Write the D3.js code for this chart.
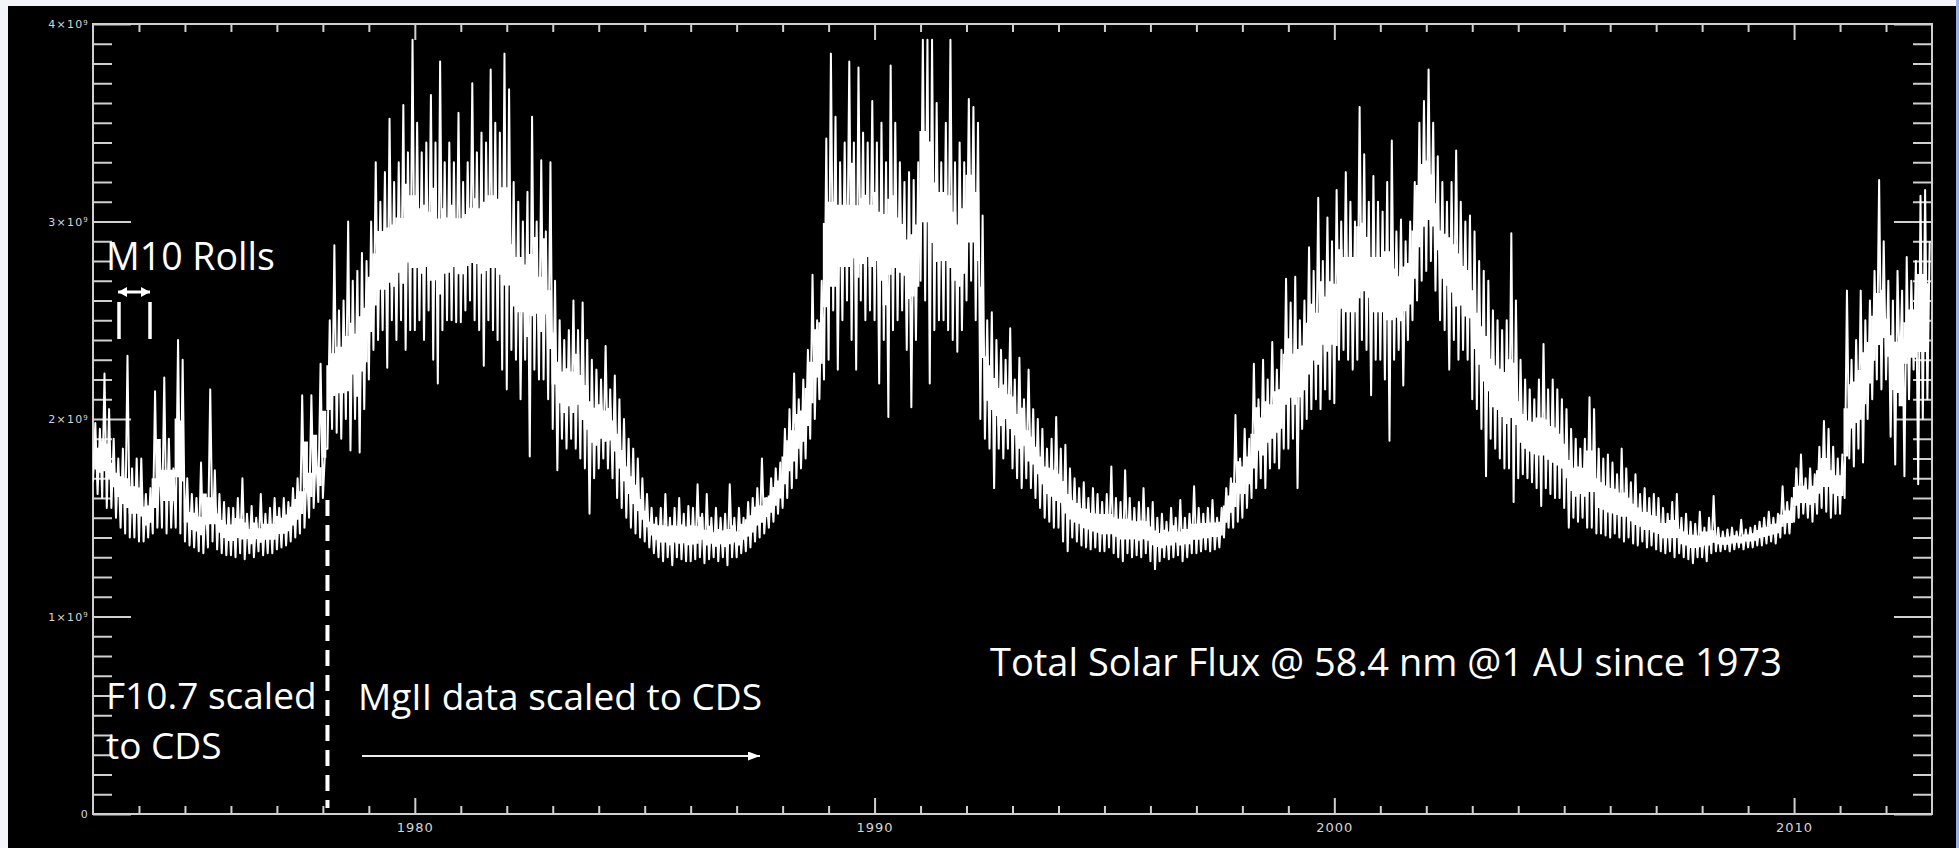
<!DOCTYPE html>
<html lang="en">
<head>
<meta charset="utf-8">
<title>Total Solar Flux @ 58.4 nm</title>
<script src="https://cdn.jsdelivr.net/npm/d3@7"></script>
<style>
  html, body { margin: 0; padding: 0; background: #eef2fa; overflow: hidden; }
  svg { display: block; }
  .tick text { font-family: "DejaVu Sans", sans-serif; fill: #d6d6d6; }
  .tick line { stroke: #cfcfcf; stroke-width: 2; }
  .note { font-family: "Open Sans", sans-serif; fill: #fff; }
</style>
</head>
<body>
<svg id="chart" width="1959" height="848"></svg>
<script>
// samples every 0.1 yr from 1973, values in units of 1e9
var startYear = 1973;
var sampleStep = 0.1;

var fluxHigh = [
  1.98, 1.95, 2.23, 2.05, 1.90, 1.80, 1.85, 2.32, 1.75, 1.80, // 1973
  1.80, 1.62, 1.65, 2.14, 1.85, 2.21, 1.90, 1.75, 2.40, 2.30, // 1974
  1.70, 1.62, 1.60, 1.78, 1.60, 2.15, 1.74, 1.62, 1.58, 1.55, // 1975
  1.55, 1.60, 1.70, 1.52, 1.56, 1.50, 1.62, 1.52, 1.55, 1.60, // 1976
  1.55, 1.60, 1.58, 1.65, 1.70, 2.12, 1.75, 2.12, 1.85, 2.28, // 1977
  1.85, 2.50, 2.88, 2.55, 2.60, 3.00, 2.70, 2.75, 2.84, 2.80, // 1978
  3.00, 3.30, 3.10, 3.25, 3.52, 3.20, 3.30, 3.59, 3.35, 3.92, // 1979
  3.50, 3.35, 3.40, 3.64, 3.40, 3.81, 3.30, 3.40, 3.30, 3.55, // 1980
  3.20, 3.30, 3.70, 3.35, 3.45, 3.40, 3.77, 3.50, 3.45, 3.85, // 1981
  3.67, 3.20, 3.10, 3.00, 3.15, 3.53, 3.00, 3.31, 2.95, 3.30, // 1982
  2.70, 2.50, 2.40, 2.45, 2.60, 2.45, 2.59, 2.40, 2.30, 2.25, // 1983
  2.20, 2.37, 2.15, 2.22, 2.10, 2.00, 1.90, 1.85, 1.80, 1.70, // 1984
  1.62, 1.55, 1.50, 1.55, 1.62, 1.50, 1.55, 1.60, 1.52, 1.56, // 1985
  1.55, 1.67, 1.52, 1.62, 1.50, 1.55, 1.50, 1.52, 1.67, 1.50, // 1986
  1.55, 1.50, 1.58, 1.60, 1.65, 1.80, 1.60, 1.70, 1.75, 1.78, // 1987
  1.95, 2.05, 2.23, 2.10, 2.20, 2.35, 2.73, 2.50, 2.70, 3.42, // 1988
  3.85, 3.53, 3.30, 3.40, 3.81, 3.40, 3.78, 3.45, 3.40, 3.61, // 1989
  3.40, 3.50, 3.30, 3.79, 3.50, 3.30, 3.20, 3.25, 3.21, 3.30, // 1990
  3.92, 3.92, 3.92, 3.60, 3.30, 3.50, 3.92, 3.30, 3.40, 3.30, // 1991
  3.62, 3.58, 3.50, 3.03, 2.50, 2.54, 2.40, 2.35, 2.30, 2.46, // 1992
  2.20, 2.31, 2.10, 2.25, 2.05, 2.00, 1.95, 1.85, 1.90, 2.01, // 1993
  1.85, 1.87, 1.75, 1.70, 1.65, 1.68, 1.60, 1.65, 1.62, 1.58, // 1994
  1.62, 1.76, 1.60, 1.58, 1.74, 1.60, 1.55, 1.58, 1.65, 1.55, // 1995
  1.58, 1.50, 1.52, 1.48, 1.55, 1.50, 1.59, 1.50, 1.52, 1.66, // 1996
  1.55, 1.52, 1.55, 1.59, 1.50, 1.55, 1.65, 1.70, 2.02, 1.80, // 1997
  1.95, 1.90, 2.28, 2.10, 2.30, 2.20, 2.39, 2.25, 2.35, 2.71, // 1998
  2.59, 2.72, 2.50, 2.60, 2.87, 2.75, 3.12, 2.80, 3.02, 2.90, // 1999
  3.16, 3.00, 3.25, 3.10, 3.00, 3.58, 3.34, 3.10, 3.23, 3.10, // 2000
  3.05, 3.20, 3.41, 2.95, 3.01, 2.90, 3.00, 3.20, 3.50, 3.61, // 2001
  3.77, 3.50, 3.33, 3.20, 3.10, 3.20, 3.36, 3.10, 3.00, 3.03, // 2002
  2.95, 2.80, 2.75, 2.70, 2.55, 2.50, 2.45, 2.50, 2.94, 2.60, // 2003
  2.30, 2.20, 2.15, 2.10, 2.20, 2.38, 2.15, 2.20, 2.15, 2.10, // 2004
  2.05, 1.95, 1.90, 1.85, 1.90, 2.11, 2.05, 1.85, 1.80, 1.82, // 2005
  1.78, 1.72, 1.85, 1.75, 1.68, 1.72, 1.62, 1.65, 1.60, 1.62, // 2006
  1.60, 1.55, 1.52, 1.58, 1.62, 1.50, 1.52, 1.48, 1.47, 1.53, // 2007
  1.45, 1.50, 1.61, 1.45, 1.43, 1.44, 1.45, 1.43, 1.49, 1.44, // 2008
  1.45, 1.46, 1.48, 1.50, 1.53, 1.50, 1.52, 1.66, 1.58, 1.60, // 2009
  1.75, 1.82, 1.70, 1.75, 1.72, 1.86, 1.99, 1.95, 1.86, 1.80, // 2010
  1.82, 2.65, 2.30, 2.40, 2.65, 2.50, 2.60, 2.75, 3.21, 2.90, // 2011
  2.70, 2.60, 2.75, 2.65, 2.82, 2.70, 2.80, 3.13, 3.16, 2.90  // 2012
];

var fluxLow = [
  1.68, 1.62, 1.60, 1.55, 1.55, 1.50, 1.45, 1.42, 1.40, 1.40, // 1973
  1.38, 1.38, 1.40, 1.42, 1.45, 1.45, 1.42, 1.45, 1.45, 1.42, // 1974
  1.38, 1.36, 1.35, 1.33, 1.32, 1.35, 1.38, 1.34, 1.32, 1.31, // 1975
  1.31, 1.30, 1.32, 1.29, 1.32, 1.30, 1.33, 1.31, 1.32, 1.32, // 1976
  1.34, 1.35, 1.36, 1.38, 1.40, 1.42, 1.45, 1.50, 1.55, 1.58, // 1977
  1.60, 1.85, 1.95, 1.93, 1.90, 2.00, 1.84, 2.00, 1.83, 2.05, // 1978
  2.20, 2.35, 2.40, 2.45, 2.26, 2.50, 2.40, 2.50, 2.35, 2.45, // 1979
  2.45, 2.50, 2.40, 2.55, 2.30, 2.18, 2.45, 2.50, 2.50, 2.49, // 1980
  2.49, 2.55, 2.60, 2.50, 2.45, 2.27, 2.50, 2.45, 2.40, 2.25, // 1981
  2.15, 2.35, 2.30, 2.10, 2.30, 1.81, 2.25, 2.20, 2.20, 2.10, // 1982
  1.95, 1.74, 1.90, 1.85, 1.90, 1.85, 1.80, 1.75, 1.52, 1.70, // 1983
  1.75, 1.80, 1.75, 1.70, 1.60, 1.55, 1.50, 1.45, 1.42, 1.40, // 1984
  1.38, 1.35, 1.32, 1.30, 1.28, 1.30, 1.26, 1.30, 1.29, 1.28, // 1985
  1.28, 1.29, 1.30, 1.27, 1.29, 1.30, 1.28, 1.30, 1.26, 1.30, // 1986
  1.30, 1.32, 1.33, 1.35, 1.38, 1.40, 1.42, 1.45, 1.48, 1.52, // 1987
  1.55, 1.60, 1.65, 1.70, 1.75, 1.80, 1.90, 2.00, 2.10, 2.20, // 1988
  2.30, 2.55, 2.25, 2.50, 2.60, 2.40, 2.25, 2.60, 2.50, 2.55, // 1989
  2.50, 2.18, 2.40, 2.01, 2.45, 2.50, 2.55, 2.35, 2.06, 2.40, // 1990
  2.70, 2.60, 2.18, 2.45, 2.50, 2.50, 2.45, 2.40, 2.34, 2.45, // 1991
  2.60, 2.70, 2.50, 2.00, 1.90, 1.85, 1.65, 1.85, 1.80, 1.85, // 1992
  1.75, 1.70, 1.65, 1.70, 1.65, 1.60, 1.55, 1.50, 1.48, 1.45, // 1993
  1.45, 1.38, 1.33, 1.40, 1.38, 1.36, 1.35, 1.34, 1.35, 1.33, // 1994
  1.33, 1.35, 1.32, 1.30, 1.28, 1.32, 1.30, 1.31, 1.30, 1.32, // 1995
  1.28, 1.24, 1.28, 1.30, 1.29, 1.30, 1.31, 1.28, 1.30, 1.32, // 1996
  1.32, 1.33, 1.34, 1.33, 1.34, 1.35, 1.40, 1.45, 1.45, 1.48, // 1997
  1.50, 1.55, 1.60, 1.65, 1.70, 1.65, 1.75, 1.78, 1.75, 1.85, // 1998
  1.85, 1.90, 1.65, 1.95, 2.00, 2.05, 2.10, 2.05, 2.15, 2.10, // 1999
  2.08, 2.30, 2.35, 2.30, 2.25, 2.30, 2.40, 2.35, 2.12, 2.30, // 2000
  2.30, 2.20, 1.89, 2.30, 2.35, 2.17, 2.40, 2.50, 2.60, 2.70, // 2001
  2.75, 2.80, 2.65, 2.50, 2.45, 2.25, 2.40, 2.30, 2.35, 2.30, // 2002
  2.10, 2.05, 1.95, 1.71, 1.90, 1.85, 1.80, 1.75, 1.75, 1.58, // 2003
  1.70, 1.72, 1.70, 1.68, 1.65, 1.56, 1.65, 1.62, 1.60, 1.60, // 2004
  1.55, 1.45, 1.50, 1.48, 1.50, 1.45, 1.45, 1.42, 1.42, 1.41, // 2005
  1.40, 1.42, 1.40, 1.38, 1.40, 1.37, 1.36, 1.38, 1.35, 1.36, // 2006
  1.34, 1.33, 1.32, 1.33, 1.30, 1.32, 1.30, 1.29, 1.27, 1.30, // 2007
  1.30, 1.28, 1.32, 1.33, 1.33, 1.34, 1.33, 1.34, 1.35, 1.34, // 2008
  1.35, 1.35, 1.36, 1.36, 1.37, 1.38, 1.37, 1.40, 1.42, 1.42, // 2009
  1.48, 1.50, 1.52, 1.50, 1.48, 1.52, 1.55, 1.53, 1.50, 1.52, // 2010
  1.52, 1.60, 1.80, 1.76, 1.85, 1.78, 2.00, 2.10, 2.20, 2.15, // 2011
  2.20, 1.91, 1.77, 2.20, 1.71, 2.10, 2.25, 1.67, 2.00, 2.10  // 2012
];

var yearDomain = [1973, 2013];
var yearLabels = [1980, 1990, 2000, 2010];
var fluxDomain = [0, 4e9];
var fluxMajor = [0, 1e9, 2e9, 3e9, 4e9];
var fluxMantissa = ["0", "1", "2", "3", "4"];

var svg = d3.select("#chart");

// page + black slide area
svg.append("rect").attr("x", 0).attr("y", 0).attr("width", 1959).attr("height", 848).attr("fill", "#f3f5fb");
svg.append("rect").attr("x", 1956).attr("y", 0).attr("width", 3).attr("height", 848).attr("fill", "#9db2e3");
svg.append("rect").attr("x", 8).attr("y", 6).attr("width", 1948).attr("height", 842).attr("fill", "#000");

var plotLeft = 93, plotRight = 1932, plotTop = 24, plotBottom = 814;

var x = d3.scaleLinear().domain(yearDomain).range([plotLeft, plotRight]);
var y = d3.scaleLinear().domain(fluxDomain).range([plotBottom, plotTop]);

var minorYears = d3.range(yearDomain[0] + 1, yearDomain[1]).filter(function(d) { return yearLabels.indexOf(d) < 0; });
var minorFlux = d3.range(1, 40).map(function(i) { return i * 1e8; }).filter(function(d) { return d % 1e9 !== 0; });

function noDomain(g) { g.select(".domain").remove(); }

// x axes (ticks point inward)
svg.append("g").attr("transform", "translate(0," + plotBottom + ")")
  .call(d3.axisBottom(x).tickValues(minorYears).tickSize(-8).tickFormat(""))
  .call(noDomain);
svg.append("g").attr("transform", "translate(0," + plotBottom + ")")
  .call(d3.axisBottom(x).tickValues(yearLabels).tickSize(-16).tickPadding(9).tickFormat(d3.format("d")))
  .call(noDomain)
  .selectAll("text").attr("font-size", 13).attr("letter-spacing", 1);
svg.append("g").attr("transform", "translate(0," + plotTop + ")")
  .call(d3.axisTop(x).tickValues(minorYears).tickSize(-8).tickFormat(""))
  .call(noDomain);
svg.append("g").attr("transform", "translate(0," + plotTop + ")")
  .call(d3.axisTop(x).tickValues(yearLabels).tickSize(-16).tickFormat(""))
  .call(noDomain);

// y axes
svg.append("g").attr("transform", "translate(" + plotLeft + ",0)")
  .call(d3.axisLeft(y).tickValues(minorFlux).tickSize(-19).tickFormat(""))
  .call(noDomain);
var yLab = svg.append("g").attr("transform", "translate(" + plotLeft + ",0)")
  .call(d3.axisLeft(y).tickValues(fluxMajor).tickSize(-38).tickPadding(4).tickFormat(""))
  .call(noDomain);
yLab.selectAll(".tick text").each(function(d, i) {
  var t = d3.select(this).attr("font-size", 11).attr("letter-spacing", 1.2);
  if (i === 0) { t.text(fluxMantissa[i]); return; }
  t.append("tspan").text(fluxMantissa[i] + "\u00d710");
  t.append("tspan").attr("font-size", 7).attr("dy", "-0.45em").text("9");
});
svg.append("g").attr("transform", "translate(" + plotRight + ",0)")
  .call(d3.axisRight(y).tickValues(minorFlux).tickSize(-19).tickFormat(""))
  .call(noDomain);
svg.append("g").attr("transform", "translate(" + plotRight + ",0)")
  .call(d3.axisRight(y).tickValues(fluxMajor).tickSize(-38).tickFormat(""))
  .call(noDomain);

svg.append("rect")
  .attr("x", plotLeft).attr("y", plotTop)
  .attr("width", plotRight - plotLeft).attr("height", plotBottom - plotTop)
  .attr("fill", "none").attr("stroke", "#cfcfcf").attr("stroke-width", 2);

// the flux series
svg.append("clipPath").attr("id", "plot-clip")
  .append("rect").attr("x", plotLeft).attr("y", plotTop)
  .attr("width", plotRight - plotLeft).attr("height", plotBottom - plotTop);

var plot = svg.append("g").attr("clip-path", "url(#plot-clip)");

// solid middle of the band (running median of low / high, inner part only)
function runMedian(arr, i) {
  return d3.median(arr.slice(Math.max(0, i - 1), i + 2));
}
var core = fluxLow.map(function(v, i) {
  var lo = runMedian(fluxLow, i), hi = runMedian(fluxHigh, i);
  return { t: startYear + i * sampleStep + sampleStep / 4, lo: lo + (hi - lo) * 0.3, hi: hi - (hi - lo) * 0.35 };
});
plot.append("path")
  .attr("d", d3.area()
    .curve(d3.curveStep)
    .x(function(d) { return x(d.t); })
    .y0(function(d) { return y(d.lo * 1e9); })
    .y1(function(d) { return y(d.hi * 1e9); })(core))
  .attr("fill", "#fff");

// individual low/high samples drawn as one zigzag line (the spikes)
var pts = [];
fluxLow.forEach(function(v, i) {
  var t = startYear + i * sampleStep;
  pts.push([t, v]);
  pts.push([t + sampleStep / 2, fluxHigh[i]]);
});

var line = d3.line()
  .x(function(d) { return x(d[0]); })
  .y(function(d) { return y(d[1] * 1e9); });

plot.append("path")
  .attr("d", line(pts))
  .attr("fill", "none")
  .attr("stroke", "#fff")
  .attr("stroke-width", 2)
  .attr("stroke-linejoin", "round");

// annotations
var defs = svg.append("defs");
function arrowHead(id, w, h, orient) {
  defs.append("marker").attr("id", id)
    .attr("markerUnits", "userSpaceOnUse")
    .attr("markerWidth", w).attr("markerHeight", h)
    .attr("refX", w).attr("refY", h / 2)
    .attr("orient", orient)
    .append("path").attr("d", "M0,0L" + w + "," + (h / 2) + "L0," + h + "Z").attr("fill", "#fff");
}
arrowHead("head-small", 9, 10, "auto-start-reverse");
arrowHead("head-long", 12, 9, "auto");

svg.append("text").attr("class", "note").attr("x", 106).attr("y", 270).attr("font-size", 37.5).text("M10 Rolls");
svg.append("line").attr("x1", 118).attr("x2", 150).attr("y1", 292).attr("y2", 292)
  .attr("stroke", "#fff").attr("stroke-width", 3)
  .attr("marker-start", "url(#head-small)").attr("marker-end", "url(#head-small)");
[119, 150].forEach(function(px) {
  svg.append("line").attr("x1", px).attr("x2", px).attr("y1", 302).attr("y2", 339)
    .attr("stroke", "#fff").attr("stroke-width", 3.5);
});

svg.append("line")
  .attr("x1", x(1978.1)).attr("x2", x(1978.1))
  .attr("y1", 500).attr("y2", 808)
  .attr("stroke", "#fff").attr("stroke-width", 4)
  .attr("stroke-dasharray", "16,9");

svg.append("text").attr("class", "note").attr("x", 106).attr("y", 709).attr("font-size", 37).text("F10.7 scaled");
svg.append("text").attr("class", "note").attr("x", 106).attr("y", 759).attr("font-size", 37).text("to CDS");
svg.append("text").attr("class", "note").attr("x", 358).attr("y", 710).attr("font-size", 37).text("MgII data scaled to CDS");
svg.append("line").attr("x1", 362).attr("x2", 760).attr("y1", 756).attr("y2", 756)
  .attr("stroke", "#eee").attr("stroke-width", 2)
  .attr("marker-end", "url(#head-long)");
svg.append("text").attr("class", "note").attr("x", 990).attr("y", 676).attr("font-size", 38)
  .text("Total Solar Flux @ 58.4 nm @1 AU since 1973");
</script>
</body>
</html>
